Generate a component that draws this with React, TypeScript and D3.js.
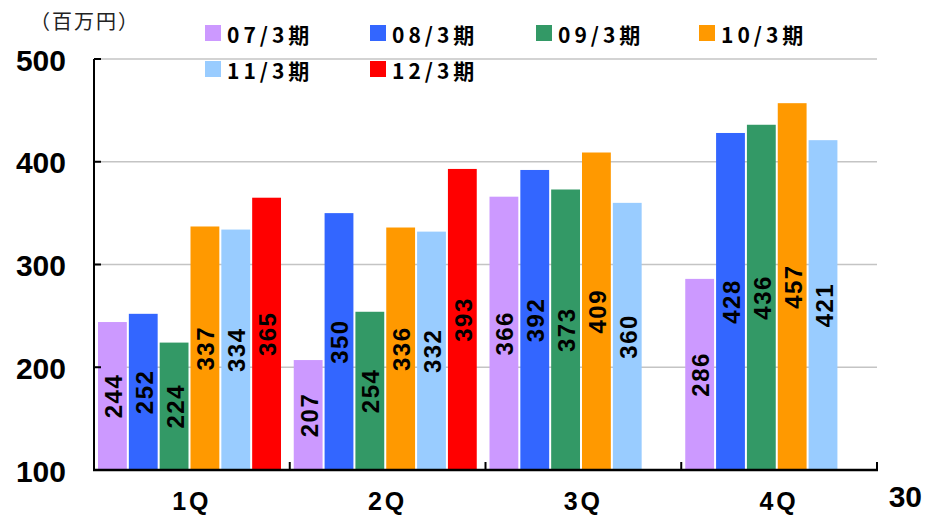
import React from "react";
import * as d3 from "d3";

const categories = ["1Q", "2Q", "3Q", "4Q"];
const seriesNames = ["07/3期", "08/3期", "09/3期", "10/3期", "11/3期", "12/3期"];
const s0703 = [244, 207, 366, 286];
const s0803 = [252, 350, 392, 428];
const s0903 = [224, 254, 373, 436];
const s1003 = [337, 336, 409, 457];
const s1103 = [334, 332, 360, 421];
const s1203 = [365, 393, null, null];
const seriesValues = [s0703, s0803, s0903, s1003, s1103, s1203];
const colors = ["#cc99ff", "#3366ff", "#339966", "#ff9900", "#99ccff", "#ff0000"];
const yTicks = [100, 200, 300, 400, 500];
const unitLabel = "（百万円）";
const pageNo = "30";

const W = 930, H = 516;
const X0 = 94, X1 = 877, YT = 59, YB = 470;

export default function App() {
  const x = d3.scaleBand<string>().domain(categories).range([X0, X1]).padding(0);
  const inner = d3.scaleBand<string>().domain(seriesNames).range([4, 4 + 183]).paddingInner(0.065).paddingOuter(0);
  const y = d3.scaleLinear().domain([100, 500]).range([YB, YT]);

  const legendX = [205, 370, 536, 699];
  const legendY = [25, 61];

  return (
    <svg width={W} height={H} style={{ position: "absolute", left: 0, top: 0, background: "#fff" }}>
      <rect width={W} height={H} fill="#fff" />
      {yTicks.filter(t => t > 100).map(t => (
        <line key={t} x1={X0} x2={X1} y1={y(t)} y2={y(t)} stroke="#c4c4c4" strokeWidth={1.5} />
      ))}
      {categories.map((c, ci) =>
        seriesNames.map((s, si) => {
          const v = seriesValues[si][ci];
          if (v == null) return null;
          const bx = (x(c) as number) + (inner(s) as number);
          const bw = inner.bandwidth();
          return <rect key={c + s} x={bx} y={y(v)} width={bw} height={YB - y(v)} fill={colors[si]} />;
        })
      )}
      {categories.map((c, ci) =>
        seriesNames.map((s, si) => {
          const v = seriesValues[si][ci];
          if (v == null) return null;
          const cx = (x(c) as number) + (inner(s) as number) + inner.bandwidth() / 2;
          const cy = (y(v) + YB) / 2;
          return (
            <text key={"l" + c + s} transform={`translate(${cx + 1},${cy}) rotate(-90)`} textAnchor="middle" dominantBaseline="central"
              fontFamily="Liberation Sans, Arial, sans-serif" fontWeight="bold" fontSize={24} letterSpacing={1.5} fill="#000">
              {v}
            </text>
          );
        })
      )}
      <line x1={X0} x2={X0} y1={YT} y2={YB + 1} stroke="#000" strokeWidth={2} />
      <line x1={X0 - 1} x2={X1 + 1} y1={YB} y2={YB} stroke="#000" strokeWidth={2.5} />
      {yTicks.map(t => (
        <line key={"yt" + t} x1={X0} x2={X0 + 7} y1={y(t)} y2={y(t)} stroke="#000" strokeWidth={2} />
      ))}
      {[...categories.map(c => x(c) as number), X1].map((px, i) => (
        <line key={"xt" + i} x1={px} x2={px} y1={YB} y2={YB - 8} stroke="#000" strokeWidth={2} />
      ))}
      {yTicks.map(t => (
        <text key={"yl" + t} x={66} y={y(t) + 1} textAnchor="end" dominantBaseline="central"
          fontFamily="Liberation Sans, Arial, sans-serif" fontWeight="bold" fontSize={30} fill="#000">
          {t}
        </text>
      ))}
      {categories.map(c => (
        <text key={"xl" + c} x={(x(c) as number) + x.bandwidth() / 2} y={510} textAnchor="middle"
          fontFamily="Liberation Sans, Arial, sans-serif" fontWeight="bold" fontSize={25} letterSpacing={3} fill="#000">
          {c}
        </text>
      ))}
      <text x={30} y={20} dominantBaseline="central" fontFamily="Noto Sans CJK JP, sans-serif" fontSize={20} letterSpacing={2} fill="#222">
        {unitLabel}
      </text>
      <text x={922} y={507} textAnchor="end"
        fontFamily="Liberation Sans, Arial, sans-serif" fontWeight="bold" fontSize={30} fill="#000">
        {pageNo}
      </text>
      {seriesNames.map((s, i) => {
        const lx = legendX[i % 4];
        const ly = legendY[Math.floor(i / 4)];
        return (
          <g key={"lg" + s}>
            <rect x={lx} y={ly} width={16} height={16} fill={colors[i]} />
            <text x={lx + 22} y={ly + 8.5} dominantBaseline="central" fontFamily="Noto Sans CJK JP, sans-serif" fontWeight="bold"
              fontSize={21} letterSpacing={4} fill="#000">
              {s}
            </text>
          </g>
        );
      })}
    </svg>
  );
}
